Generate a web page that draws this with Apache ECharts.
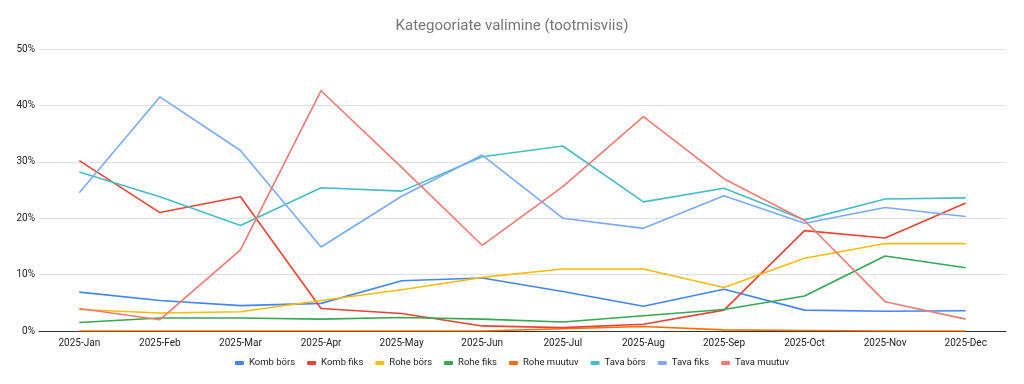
<!DOCTYPE html>
<html>
<head>
    <meta charset="utf-8">
    <title>Kategooriate valimine</title>
    <script src="https://cdn.jsdelivr.net/npm/echarts@6/dist/echarts.min.js"></script>
    <style>
        html, body { margin: 0; padding: 0; background: #fff; }
    </style>
</head>
<body>
<div id="main" style="width: 1024px;height:384px;"></div>
<script>
    // kuud
    var months = ['2025-Jan', '2025-Feb', '2025-Mar', '2025-Apr', '2025-May', '2025-Jun',
        '2025-Jul', '2025-Aug', '2025-Sep', '2025-Oct', '2025-Nov', '2025-Dec'];

    // väärtused protsentides
    var kombBors   = [6.9, 5.4, 4.5, 4.9, 8.9, 9.4, 7.0, 4.4, 7.4, 3.7, 3.5, 3.6];
    var kombFiks   = [30.2, 21.0, 23.8, 4.0, 3.1, 0.9, 0.6, 1.2, 3.7, 17.8, 16.5, 22.7];
    var roheBors   = [3.8, 3.2, 3.4, 5.4, 7.3, 9.5, 11.0, 11.0, 7.7, 12.9, 15.5, 15.5];
    var roheFiks   = [1.5, 2.3, 2.3, 2.1, 2.4, 2.1, 1.6, 2.7, 3.8, 6.2, 13.3, 11.2];
    var roheMuutuv = [0, 0, 0, 0, 0, 0, 0.4, 0.8, 0.2, 0.1, 0, 0];
    var tavaBors   = [28.2, 23.8, 18.7, 25.4, 24.8, 30.9, 32.8, 22.9, 25.3, 19.7, 23.4, 23.6];
    var tavaFiks   = [24.5, 41.5, 32.0, 14.9, 23.9, 31.2, 20.0, 18.2, 24.0, 19.1, 21.9, 20.3];
    var tavaMuutuv = [4.0, 2.0, 14.4, 42.6, 29.0, 15.2, 25.6, 38.0, 27.0, 19.6, 5.2, 2.1];

    var seriesNames = ['Komb börs', 'Komb fiks', 'Rohe börs', 'Rohe fiks', 'Rohe muutuv', 'Tava börs', 'Tava fiks', 'Tava muutuv'];
    var seriesData = [kombBors, kombFiks, roheBors, roheFiks, roheMuutuv, tavaBors, tavaFiks, tavaMuutuv];
    var colors = ['#4285F4', '#EA4335', '#FBBC04', '#34A853', '#FF6D01', '#46BDC6', '#7BAAF7', '#F07B72'];

    var myChart = echarts.init(document.getElementById('main'));

    var option = {
        color: colors,
        textStyle: { fontFamily: 'Roboto, Arial, sans-serif' },
        title: {
            text: 'Kategooriate valimine (tootmisviis)',
            left: 'center',
            top: 14,
            textStyle: { fontSize: 15, fontWeight: 'normal', color: '#757575' }
        },
        legend: {
            bottom: 11,
            left: 'center',
            icon: 'roundRect',
            itemWidth: 9,
            itemHeight: 4,
            itemGap: 12,
            textStyle: { fontSize: 9.5, color: '#222' },
            data: seriesNames
        },
        grid: {
            left: 39,
            right: 18,
            top: 49,
            bottom: 53
        },
        xAxis: {
            type: 'category',
            data: months,
            boundaryGap: true,
            axisLine: { lineStyle: { color: '#333', width: 1 } },
            axisTick: { show: false },
            axisLabel: { fontSize: 10, color: '#222', margin: 7 }
        },
        yAxis: {
            type: 'value',
            min: 0,
            max: 50,
            interval: 10,
            axisLine: { show: false },
            axisTick: { show: false },
            axisLabel: { fontSize: 10, color: '#222', margin: 4, formatter: '{value}%' },
            splitLine: { lineStyle: { color: '#e0e0e0', width: 1 } }
        },
        series: seriesNames.map(function (name, i) {
            return {
                name: name,
                type: 'line',
                data: seriesData[i],
                symbol: 'none',
                lineStyle: { width: 1.6 },
                z: i === 4 ? 1 : 2
            };
        })
    };
    myChart.setOption(option);
</script>
</body>
</html>
